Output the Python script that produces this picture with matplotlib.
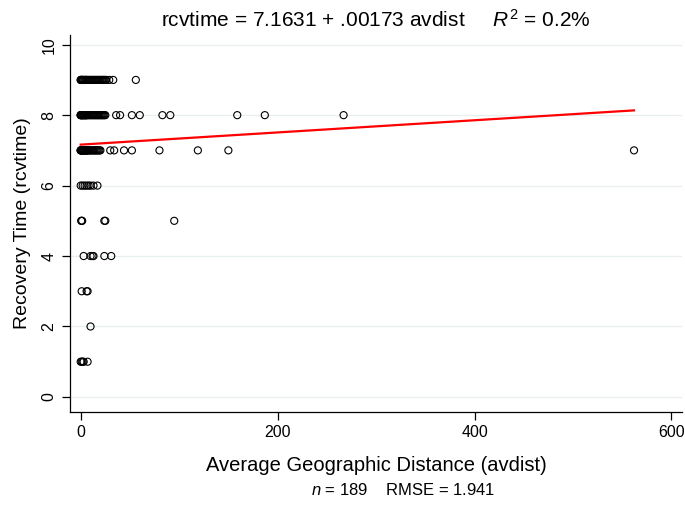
import matplotlib
matplotlib.use("Agg")
import matplotlib.pyplot as plt

plt.rcParams['font.family'] = ['Liberation Sans', 'DejaVu Sans']
plt.rcParams['mathtext.fontset'] = 'custom'
plt.rcParams['mathtext.rm'] = 'Liberation Sans'
plt.rcParams['mathtext.it'] = 'Liberation Sans:italic'

# avdist values for each recovery time level
avdist_9 = [0, 0, 1, 1, 2, 2, 3, 4, 5, 5, 6, 7, 8, 9, 10, 11, 12, 13, 14, 15,
            16, 17, 18, 19, 20, 21, 22, 23, 24, 25, 26, 29, 33, 56]
avdist_8 = [0, 0, 0, 1, 1, 2, 2, 3, 3, 4, 4, 5, 5, 6, 6, 7, 8, 9, 10, 11, 12,
            13, 14, 15, 16, 17, 18, 19, 20, 21, 22, 23, 24, 25,
            36, 40, 52, 60, 83, 91, 159, 187, 267]
avdist_7 = [0, 0, 0, 1, 1, 1, 2, 2, 3, 3, 4, 4, 5, 5, 6, 6, 7, 7, 8, 9, 10,
            11, 12, 13, 14, 15, 16, 17, 18, 19, 20,
            30, 34, 44, 52, 80, 119, 150, 562]
avdist_6 = [0, 2, 4, 6, 8, 10, 13, 17]
avdist_5 = [0.5, 1, 1.5, 24, 25, 95]
avdist_4 = [3, 10, 12, 13, 24, 31]
avdist_3 = [1, 6, 7]
avdist_2 = [10]
avdist_1 = [0, 1, 2, 3, 7]

groups = {9: avdist_9, 8: avdist_8, 7: avdist_7, 6: avdist_6, 5: avdist_5,
          4: avdist_4, 3: avdist_3, 2: avdist_2, 1: avdist_1}

intercept = 7.1631
slope = 0.00173

xs = []
ys = []
for level, vals in groups.items():
    xs += vals
    ys += [level] * len(vals)

fig = plt.figure(figsize=(6.85, 5.05), dpi=100)
ax = fig.add_axes([0.102, 0.184, 0.894, 0.747])

ax.scatter(xs, ys, s=26, facecolors='none', edgecolors='black', linewidths=0.8, zorder=3)
x0, x1 = min(xs), max(xs)
ax.plot([x0, x1], [intercept + slope * x0, intercept + slope * x1],
        color='red', lw=1.6, zorder=4)

ax.set_xlim(-11, 611)
ax.set_ylim(-0.43, 10.28)
ax.set_xticks([0, 200, 400, 600])
ax.set_yticks([0, 2, 4, 6, 8, 10])
ax.yaxis.grid(True, color='#e8eff1', lw=0.9)
ax.set_axisbelow(True)
for s in ['top', 'right']:
    ax.spines[s].set_visible(False)
ax.spines['left'].set_linewidth(0.9)
ax.spines['bottom'].set_linewidth(0.9)
ax.tick_params(axis='both', labelsize=11.5, length=6, width=0.9)
for lab in ax.get_yticklabels():
    lab.set_rotation(90)
    lab.set_va('center')

ax.set_xlabel('Average Geographic Distance (avdist)', fontsize=14.5, labelpad=11)
ax.set_ylabel('Recovery Time (rcvtime)', fontsize=14, labelpad=8)
ax.set_title('rcvtime = 7.1631 + .00173 avdist     $R^2$ = 0.2%', fontsize=15, pad=6)
fig.text(0.589, 0.02, '$n$ = 189    RMSE = 1.941', ha='center', fontsize=12)

fig.savefig('out.png', dpi=100)
